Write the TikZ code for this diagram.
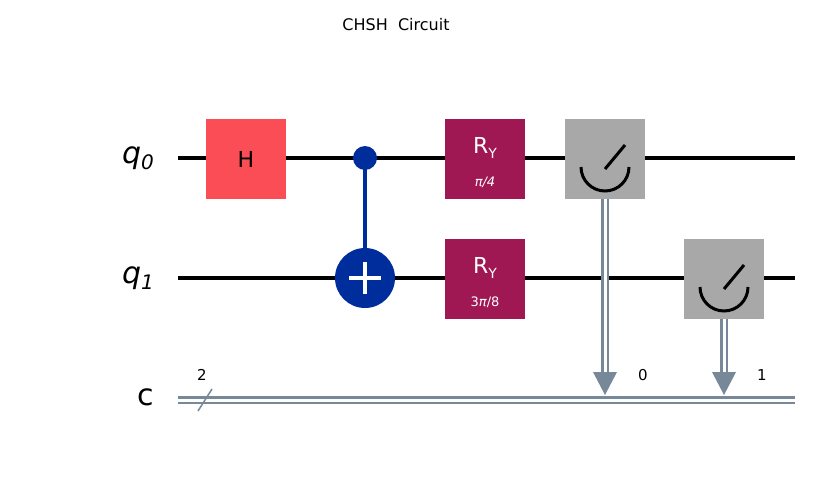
\documentclass[tikz,border=0pt]{standalone}
\usepackage{fontspec}
\setmainfont{DejaVu Sans}
\usetikzlibrary{arrows.meta}
\definecolor{hred}{HTML}{FA4D56}
\definecolor{ryc}{HTML}{9F1853}
\definecolor{cx}{HTML}{002D9C}
\definecolor{mg}{HTML}{A8A8A8}
\definecolor{cl}{HTML}{778899}
\begin{document}
\begin{tikzpicture}[x=1pt,y=-1pt,
  wire/.style={line width=3.2pt,black},
  cwire/.style={cl,double=white,double distance=3pt,line width=2.4pt},
  gate/.style={minimum width=80pt,minimum height=80pt,inner sep=0,draw=none},
  lab/.style={font=\fontsize{30}{30}\selectfont},
  sm/.style={font=\fontsize{15}{15}\selectfont}]
\useasboundingbox (0,0) rectangle (835,503);
\node[font=\fontsize{16}{16}\selectfont] (title) at (396,25) {CHSH\ \ Circuit};
% labels
\node[lab] (l0) at (138,158) {\itshape q\raisebox{-0.35ex}{\fontsize{20}{20}\selectfont 0}};
\node[lab] (l1) at (138,278) {\itshape q\raisebox{-0.35ex}{\fontsize{20}{20}\selectfont 1}};
\node[lab] (lc) at (146,397) {c};
% wire endpoints
\coordinate (a0) at (178,158); \coordinate (b0) at (795,158);
\coordinate (a1) at (178,278); \coordinate (b1) at (795,278);
\coordinate (ac) at (178,400); \coordinate (bc) at (795,400);
\draw[wire] (a0) -- (b0);
\draw[wire] (a1) -- (b1);
\draw[cwire] (ac) -- (bc);
\coordinate (s1) at (198,411); \coordinate (s2) at (212,389);
\draw[cl,line width=1.5pt] (s1) -- (s2);
\node[sm] (n2) at (202,375) {2};
% gates
\node[gate,fill=hred,font=\fontsize{22}{22}\selectfont] (H) at (246,159) {H};
\coordinate (ctl) at (365,158); \coordinate (tgt) at (365,278);
\draw[cx,line width=3.2pt] (ctl) -- (tgt);
\fill[cx] (ctl) circle (12);
\fill[cx] (tgt) circle (30);
\draw[white,line width=3.5pt] (365,262) -- (365,294) (349,278) -- (381,278);
\node[gate,fill=ryc,text=white] (ry0) at (485,159) {};
\node[text=white,font=\fontsize{22}{22}\selectfont] (ry0t) at (485,148) {R\raisebox{-0.4ex}{\fontsize{14}{14}\selectfont Y}};
\node[text=white,font=\fontsize{13}{13}\selectfont\itshape] (ry0p) at (485,182) {π/4};
\node[gate,fill=ryc,text=white] (ry1) at (485,279) {};
\node[text=white,font=\fontsize{22}{22}\selectfont] (ry1t) at (485,268) {R\raisebox{-0.4ex}{\fontsize{14}{14}\selectfont Y}};
\node[text=white,font=\fontsize{13}{13}\selectfont] (ry1p) at (485,302) {3\textit{π}/8};
% measures
\node[gate,fill=mg] (m0) at (605,159) {};
\node[gate,fill=mg] (m1) at (724,279) {};
\foreach \m/\x/\y in {m0/605/159,m1/724/279}{
  \draw[black,line width=3pt] (\x-24,\y+8) arc (180:0:24);
  \draw[black,line width=3pt] (\x,\y+10) -- (\x+20,\y-14);
}
% classical drops
\coordinate (d0) at (605,395); \coordinate (d1) at (724,395);
\draw[cwire] (m0.south) -- (605,372);
\draw[cwire] (m1.south) -- (724,372);
\fill[cl] (593,372) -- (617,372) -- (605,395) -- cycle;
\fill[cl] (712,372) -- (736,372) -- (724,395) -- cycle;
\node[sm] (c0) at (643,375) {0};
\node[sm] (c1) at (762,375) {1};
\end{tikzpicture}
\end{document}
